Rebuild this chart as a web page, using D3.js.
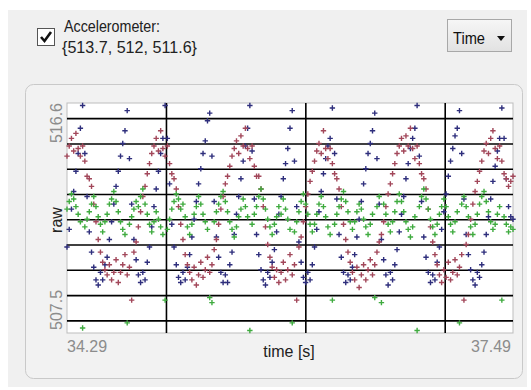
<!DOCTYPE html>
<html>
<head>
<meta charset="utf-8">
<script src="https://cdn.jsdelivr.net/npm/d3@7"></script>
<style>
html, body { margin: 0; padding: 0; background: #fff; }
svg { display: block; font-family: "Liberation Sans", Arial, sans-serif; }
</style>
</head>
<body>
<div id="vis"></div>
<script>
// time axis (s) and raw value range
var tStart = 34.29, tEnd = 37.49, dt = 0.016;
var rawMin = 507.5, rawMax = 516.6;
var gridRaw = [508, 509, 510, 511, 512, 513, 514, 515, 516];
var gridTime = [35, 36, 37];
var current = [513.7, 512, 511.6];
var xLabels = ["34.29", "37.49"];
var yLabels = ["507.5", "516.6"];

// samples, one every dt seconds
var redVals = [
  514.5,514.9,515.2,514.7,515.4,514.8,514.5,514.9,514.3,513.7,
  513.6,513.3,512.6,511.9,511.2,510.7,510.3,510.0,509.8,510.2,
  509.6,509.9,510.4,509.5,509.9,510.2,510.6,509.8,510.1,508.8,
  510.7,511.1,511.7,512.3,512.9,513.3,513.8,514.2,514.6,514.9,
  515.2,514.7,515.5,514.8,514.5,514.9,514.2,513.8,513.6,513.2,
  512.5,511.8,511.2,510.6,510.2,509.9,509.6,510.1,509.4,509.8,
  510.3,509.7,510.0,510.5,509.9,510.2,510.8,511.2,511.8,512.4,
  512.9,513.4,513.7,514.1,514.5,514.8,515.1,514.6,515.3,514.9,
  515.6,514.8,514.4,514.9,514.1,513.7,513.7,513.2,512.5,511.7,
  511.0,510.5,510.1,509.7,510.0,509.5,509.9,510.3,509.6,510.0,
  510.6,509.8,510.2,508.8,510.9,511.3,511.9,512.5,513.0,513.5,
  513.9,514.3,514.7,515.0,514.6,515.5,514.8,514.4,514.8,514.2,
  513.8,513.6,513.2,512.5,511.8,511.2,510.7,510.3,509.9,509.6,
  510.1,509.3,509.8,510.2,509.6,510.0,510.4,509.8,510.2,510.7,
  511.1,511.4,511.9,512.5,513.0,513.4,513.8,514.2,514.6,514.9,
  515.2,514.7,515.3,514.9,515.6,514.8,514.4,514.9,514.2,513.8,
  513.6,513.2,512.4,511.7,511.1,510.6,510.2,509.8,509.5,510.0,
  509.7,510.3,509.6,509.9,510.4,509.8,510.1,510.6,508.8,511.0,
  511.4,512.0,512.6,513.1,513.5,513.9,514.3,514.7,515.0,514.6,
  515.2,515.5,514.8,514.4,514.9,514.3,513.8,513.6,513.3,513.5,
  513.7];

var blueVals = [
  510.9,511.6,512.4,513.1,513.9,514.6,515.6,516.5,514.6,512.9,
  511.5,510.7,510.1,509.6,509.4,509.9,509.6,510.2,510.5,511.2,
  511.9,512.6,513.3,513.9,514.5,515.0,515.5,516.3,514.4,512.6,
  511.2,510.4,509.8,509.5,509.9,509.6,510.3,510.9,511.7,512.5,
  513.2,513.9,514.6,515.2,516.5,515.2,513.4,511.8,510.9,510.2,
  509.7,509.5,509.9,509.6,510.1,510.6,511.3,512.0,512.7,513.4,
  514.0,514.6,515.1,515.9,516.2,514.5,512.7,511.3,510.5,509.9,
  509.5,509.8,509.5,510.2,510.7,511.4,512.2,512.9,513.6,514.3,
  514.9,515.6,516.5,514.7,512.8,511.4,510.6,510.0,509.6,509.4,
  509.9,509.7,510.3,510.8,511.5,512.2,512.9,513.6,514.2,514.8,
  515.6,516.3,514.3,512.5,511.1,510.3,509.7,509.5,509.9,509.6,
  510.2,510.9,511.6,512.3,513.1,513.8,514.4,514.9,515.2,516.4,
  514.6,512.8,511.4,510.5,509.9,509.5,509.8,509.6,510.1,510.6,
  511.3,512.0,512.7,513.4,514.0,514.6,515.0,515.5,516.2,514.4,
  512.6,511.2,510.4,509.8,509.4,509.9,509.6,510.2,510.8,511.5,
  512.2,512.9,513.6,514.2,514.8,515.2,515.6,516.5,514.5,512.7,
  511.3,510.5,509.9,509.5,509.8,509.6,510.3,510.9,511.6,512.3,
  513.0,513.7,514.3,514.8,515.3,515.6,516.3,514.6,512.8,511.4,
  510.6,510.0,509.6,509.4,509.9,509.7,510.2,510.7,511.4,512.1,
  512.8,513.5,514.1,514.7,515.2,516.4,515.2,513.6,512.5,512.1,
  512.0];

var greenVals = [
  512.4,512.7,513.0,512.8,512.5,512.2,511.9,507.7,511.7,512.0,
  512.3,512.6,512.9,512.5,512.1,511.8,511.5,511.9,512.2,512.6,
  512.8,513.1,512.7,512.3,511.9,511.6,511.4,507.9,511.8,512.1,
  512.4,512.7,512.5,512.9,513.2,512.6,512.2,511.8,511.5,511.9,
  512.3,512.0,511.7,511.4,508.8,511.6,512.0,512.4,512.7,513.0,
  512.8,512.4,512.6,512.1,511.7,511.4,511.8,512.2,512.5,512.9,
  512.6,512.2,511.9,511.6,508.9,508.7,511.9,512.3,512.6,512.9,
  513.1,512.7,512.3,511.9,511.6,511.3,511.7,512.1,512.4,512.8,
  512.5,512.1,507.6,511.8,512.2,512.5,512.9,513.2,512.8,512.4,
  512.0,511.7,511.4,511.8,512.1,512.5,512.2,512.8,512.4,512.0,
  511.6,507.9,511.5,511.9,512.3,512.7,513.0,512.6,512.2,511.8,
  511.5,511.8,512.2,512.6,512.9,512.5,512.1,511.7,511.4,508.8,
  511.8,512.2,512.5,512.8,513.1,512.7,512.3,511.9,511.6,511.9,
  512.3,512.6,512.4,512.0,511.7,511.4,511.8,512.2,508.9,512.5,
  512.9,508.7,512.6,512.2,511.8,511.5,511.9,512.3,512.7,513.0,
  512.7,512.3,511.9,511.6,511.3,511.7,512.1,507.6,512.5,512.9,
  513.2,512.8,512.4,512.0,511.7,511.4,511.8,512.2,512.5,512.8,
  512.5,512.1,511.8,511.5,511.9,512.3,507.9,512.6,512.9,512.5,
  512.1,511.7,511.4,511.8,512.2,512.6,512.9,513.1,512.7,512.3,
  511.9,511.6,511.8,512.2,512.5,508.8,512.1,511.8,511.5,511.7,
  511.6];

var seriesNames = ["blue", "red", "green"];
var seriesColors = { blue: "#2e2e7c", red: "#a2475a", green: "#3fab3f" };
var seriesVals = { blue: blueVals, red: redVals, green: greenVals };

var w = 531, h = 390;
var plot = { left: 67, top: 103, right: 513, bottom: 333 };

var svg = d3.select("#vis").append("svg")
  .attr("width", w).attr("height", h);

// window background and group panel
svg.append("rect").attr("x", 8).attr("y", 10).attr("width", 519).attr("height", 377)
  .attr("fill", "#f0f0f0");
svg.append("rect").attr("x", 25.5).attr("y", 84.5).attr("width", 497).attr("height", 294)
  .attr("rx", 8).attr("fill", "#f2f2f2").attr("stroke", "#c9c9c9");

// checkbox + label
svg.append("rect").attr("x", 37.5).attr("y", 28.5).attr("width", 17).attr("height", 17)
  .attr("fill", "#fff").attr("stroke", "#555");
svg.append("path").attr("d", "M41,37 L44.5,41 L51,32")
  .attr("fill", "none").attr("stroke", "#111").attr("stroke-width", 2.6);
svg.append("text").attr("x", 64).attr("y", 31.5).attr("font-size", 17).attr("fill", "#222")
  .attr("textLength", 96).attr("lengthAdjust", "spacingAndGlyphs")
  .text("Accelerometer:");
svg.append("text").attr("x", 62).attr("y", 52.5).attr("font-size", 17).attr("fill", "#222")
  .attr("textLength", 135).attr("lengthAdjust", "spacingAndGlyphs")
  .text("{" + current.join(", ") + "}");

// dropdown
var grad = svg.append("defs").append("linearGradient").attr("id", "btn")
  .attr("x1", 0).attr("y1", 0).attr("x2", 0).attr("y2", 1);
grad.append("stop").attr("offset", 0).attr("stop-color", "#f6f6f6");
grad.append("stop").attr("offset", 1).attr("stop-color", "#e2e2e2");
svg.append("rect").attr("x", 447.5).attr("y", 19.5).attr("width", 64).attr("height", 32)
  .attr("fill", "url(#btn)").attr("stroke", "#a8a8a8");
svg.append("text").attr("x", 453).attr("y", 44).attr("font-size", 17).attr("fill", "#111")
  .attr("textLength", 32).attr("lengthAdjust", "spacingAndGlyphs").text("Time");
svg.append("path").attr("d", "M497,36 L505,36 L501,41 Z").attr("fill", "#111");

// scales
var x = d3.scaleLinear().domain([tStart, tEnd]).range([plot.left, plot.right]);
var y = d3.scaleLinear().domain([rawMin, rawMax]).range([plot.bottom, plot.top]);

svg.append("rect").attr("x", plot.left).attr("y", plot.top)
  .attr("width", plot.right - plot.left).attr("height", plot.bottom - plot.top)
  .attr("fill", "#fff").attr("stroke", "#bdbdbd");

// grid lines drawn with axes
var gy = svg.append("g").attr("transform", `translate(${plot.left},0)`)
  .call(d3.axisLeft(y).tickValues(gridRaw).tickSize(-(plot.right - plot.left)).tickFormat(""));
var gx = svg.append("g").attr("transform", `translate(0,${plot.bottom})`)
  .call(d3.axisBottom(x).tickValues(gridTime).tickSize(-(plot.bottom - plot.top)).tickFormat(""));
[gy, gx].forEach(function (g) {
  g.select(".domain").remove();
  g.selectAll(".tick line").attr("stroke", "#000").attr("stroke-width", 1.6);
});

// points
var cross = "M-2.7,0H2.7M0,-2.7V2.7";
seriesNames.forEach(function (name) {
  svg.append("g").selectAll("path")
    .data(seriesVals[name])
    .enter().append("path")
    .attr("d", cross)
    .attr("transform", (d, i) => `translate(${x(tStart + i * dt)},${y(d)})`)
    .attr("stroke", seriesColors[name])
    .attr("stroke-width", 1.4)
    .attr("fill", "none");
});

// axis labels
svg.append("text").attr("transform", `translate(62,${y(rawMax)}) rotate(-90)`)
  .attr("text-anchor", "end").attr("font-size", 16).attr("fill", "#8c8c8c")
  .text(yLabels[1]);
svg.append("text").attr("transform", `translate(62,${y(rawMin) - 3}) rotate(-90)`)
  .attr("text-anchor", "start").attr("font-size", 16).attr("fill", "#8c8c8c")
  .text(yLabels[0]);
svg.append("text").attr("transform", `translate(62,${(plot.top + plot.bottom) / 2 + 2}) rotate(-90)`)
  .attr("text-anchor", "middle").attr("font-size", 16).attr("fill", "#222")
  .text("raw");
svg.append("text").attr("x", x(tStart)).attr("y", 352).attr("font-size", 16)
  .attr("fill", "#8c8c8c").text(xLabels[0]);
svg.append("text").attr("x", x(tEnd) - 2).attr("y", 352).attr("font-size", 16)
  .attr("text-anchor", "end").attr("fill", "#8c8c8c").text(xLabels[1]);
svg.append("text").attr("x", 289).attr("y", 357).attr("font-size", 16)
  .attr("text-anchor", "middle").attr("fill", "#222").text("time [s]");
</script>
</body>
</html>
